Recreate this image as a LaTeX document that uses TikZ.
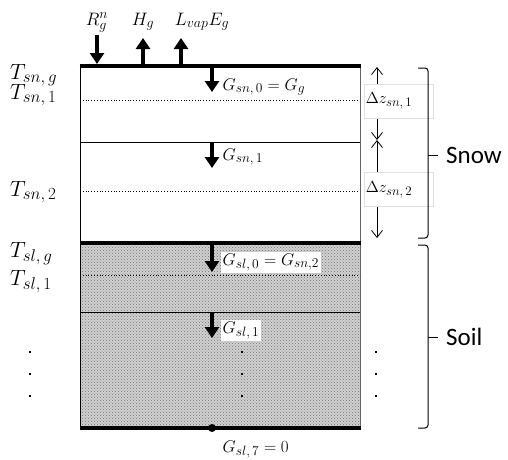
\RequirePackage{fix-cm}
\documentclass[tikz,border=0pt]{standalone}
\usepackage{fontspec}
\newfontfamily\brfont{Carlito}
\DeclareMathSizes{22}{22}{17}{13}
\DeclareMathSizes{18}{18}{14}{11}
\DeclareMathSizes{17}{17}{13.5}{10}
\DeclareMathSizes{16}{16}{13}{10}
\usetikzlibrary{arrows.meta,patterns,decorations.pathreplacing}
\begin{document}
\begin{tikzpicture}[x=1pt,y=-1pt,
  tlab/.style={anchor=base west,inner sep=0pt,font=\fontsize{22}{26}\selectfont},
  toplab/.style={anchor=base,inner sep=0pt,font=\fontsize{18}{21}\selectfont},
  glab/.style={anchor=base west,inner sep=1.5pt,font=\fontsize{17}{20}\selectfont},
  gwlab/.style={glab,fill=white},
  flux/.style={line width=3.5pt,-{Triangle[width=14pt,length=11pt]}},
  thickln/.style={line width=4.5pt},
  thinln/.style={line width=1pt},
  dotln/.style={line width=0.8pt,dotted},
  dz/.style={line width=0.8pt,{Straight Barb[length=7pt,width=11pt]}-{Straight Barb[length=7pt,width=11pt]}},
  dzbox/.style={fill=white,draw=black!12,line width=0.5pt,minimum height=34pt,text width=66pt,inner xsep=1.5pt,inner ysep=0pt,anchor=west,font=\fontsize{16}{19}\selectfont},
  brc/.style={line width=1pt,rounded corners=3pt},
  brlab/.style={anchor=base west,inner sep=0pt,font=\brfont\fontsize{25}{30}\selectfont},
  dotmark/.style={fill=black,minimum size=2.6pt,inner sep=0pt}
]
\useasboundingbox (0,0) rectangle (508,459);

% soil fill
\fill[black!18] (80,243) rectangle (360,428);
\fill[pattern=crosshatch dots,pattern color=black!55] (80,243) rectangle (360,428);

% box corners
\coordinate (tl) at (80,66);
\coordinate (tr) at (360,66);
\coordinate (bl) at (80,428);
\coordinate (br) at (360,428);
\draw[thinln] (tl) -- (bl);
\draw[thinln,black!60] (tr) -- (br);

% layer boundaries
\coordinate (a1) at (80,100);  \coordinate (b1) at (360,100);
\coordinate (a2) at (80,142);  \coordinate (b2) at (360,142);
\coordinate (a3) at (80,191);  \coordinate (b3) at (360,191);
\coordinate (a4) at (80,243);  \coordinate (b4) at (360,243);
\coordinate (a5) at (80,275);  \coordinate (b5) at (360,275);
\coordinate (a6) at (80,312);  \coordinate (b6) at (360,312);
\draw[dotln] (a1) -- (b1);
\draw[thinln] (a2) -- (b2);
\draw[dotln] (a3) -- (b3);
\draw[dotln] (a5) -- (b5);
\draw[thinln] (a6) -- (b6);
\draw[thickln] ([xshift=-0.5pt]tl) -- ([xshift=0.5pt]tr);
\draw[thickln] ([xshift=-0.5pt]a4) -- ([xshift=0.5pt]b4);
\draw[thickln] ([xshift=-0.5pt]bl) -- ([xshift=0.5pt]br);

% left temperature labels
\node[tlab] (tsng) at (10,79)  {$T_{sn,\,g}$};
\node[tlab] (tsn1) at (10,99)  {$T_{sn,\,1}$};
\node[tlab] (tsn2) at (10,196) {$T_{sn,\,2}$};
\node[tlab] (tslg) at (10,257) {$T_{sl,\,g}$};
\node[tlab] (tsl1) at (10,285) {$T_{sl,\,1}$};

% top fluxes
\node[toplab] (rn) at (97,25)  {$R_g^n$};
\node[toplab] (hg) at (143,25) {$H_g$};
\node[toplab] (le) at (202,25) {$L_{vap}E_g$};
\coordinate (rn0) at (97,35);  \coordinate (rn1) at (97,64);
\coordinate (hg0) at (143,64); \coordinate (hg1) at (143,38);
\coordinate (le0) at (181,64); \coordinate (le1) at (181,38);
\draw[flux] (rn0) -- (rn1);
\draw[flux] (hg0) -- (hg1);
\draw[flux] (le0) -- (le1);

% ground heat fluxes
\node[glab] (g0) at (221,90)  {$G_{sn,\,0}=G_g$};
\node[glab] (g1) at (221,160) {$G_{sn,\,1}$};
\node[gwlab] (g2) at (221,265) {$G_{sl,\,0}=G_{sn,2}$};
\node[gwlab] (g3) at (221,333) {$G_{sl,\,1}$};
\node[glab] (g7) at (221,452) {$G_{sl,\,7}=0$};
\coordinate (f0a) at (212,68);  \coordinate (f0b) at (212,92);
\coordinate (f1a) at (212,143); \coordinate (f1b) at (212,168);
\coordinate (f2a) at (212,245); \coordinate (f2b) at (212,272);
\coordinate (f3a) at (212,313); \coordinate (f3b) at (212,338);
\draw[flux] (f0a) -- (f0b);
\draw[flux] (f1a) -- (f1b);
\draw[flux] (f2a) -- (f2b);
\draw[flux] (f3a) -- (f3b);
\fill (212,428) circle (4pt);

% layer thickness arrows
\coordinate (z0) at (377,67);
\coordinate (z1) at (377,140);
\coordinate (z2) at (377,238);
\draw[dz] (z0) -- (z1);
\draw[dz] (z1) -- (z2);
\node[dzbox] (dz1) at (364,101) {$\Delta z_{sn,\,1}$};
\node[dzbox] (dz2) at (364,189.5) {$\Delta z_{sn,\,2}$};

% dots
\foreach \yy/\i in {352/1,374/2,396/3}{
  \node[dotmark] (dl\i) at (30,\yy) {};
  \node[dotmark] (dm\i) at (242,\yy) {};
  \node[dotmark] (dr\i) at (376,\yy) {};
}

% braces
\draw[brc] (418,68) -- (428,68) -- (428,238) -- (418,238);
\draw[line width=1pt] (428,155) -- (438,155);
\node[brlab] (snow) at (446,163) {Snow};
\draw[brc] (418,245) -- (428,245) -- (428,428) -- (418,428);
\draw[line width=1pt] (428,337) -- (438,337);
\node[brlab] (soil) at (446,345) {Soil};
\end{tikzpicture}
\end{document}
